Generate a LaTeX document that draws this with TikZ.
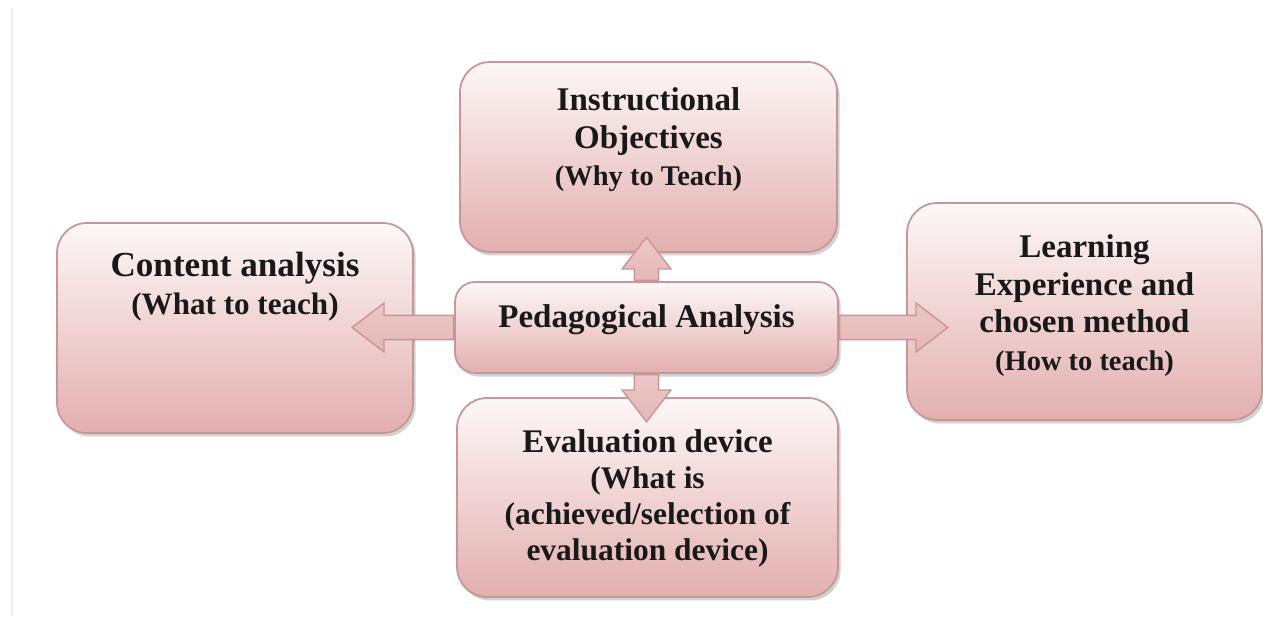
\documentclass[tikz,border=0pt]{standalone}
\usepackage{fontspec}
\setmainfont{Liberation Serif}
\usepackage{tikz}
\usetikzlibrary{positioning,calc,shadows,shapes.arrows}
\definecolor{boxtop}{HTML}{FDF7F7}
\definecolor{boxbot}{HTML}{E3AFAF}
\definecolor{boxline}{HTML}{C79696}
\definecolor{pageedge}{HTML}{FBECEC}

\begin{document}
\begin{tikzpicture}[x=0.02cm, y=-0.02cm,
  every node/.style={inner sep=0pt},
  stage/.style={rectangle, rounded corners=0.6cm, draw=boxline, line width=1pt,
    top color=boxtop, bottom color=boxbot,
    drop shadow={shadow xshift=1.5pt, shadow yshift=-2pt, opacity=0.35}},
  hub/.style={stage, rounded corners=0.4cm},
  txt/.style={font=\bfseries\fontsize{18.8}{21.5}\selectfont, align=center, text=black!90},
  arrowbody/.style={single arrow, draw=boxline, line width=0.8pt,
    shading=axis, top color=boxbot!70, middle color=boxtop, bottom color=boxbot!90,
    inner xsep=0pt, inner ysep=6.5pt, text height=0pt, text depth=0pt, minimum width=0pt,
    single arrow head extend=7pt, single arrow tip angle=75},
  link/.style={to path={let \p1=(\tikztostart), \p2=(\tikztotarget),
    \n1={atan2(\y2-\y1,\x2-\x1)}, \n2={veclen(\x2-\x1,\y2-\y1)} in
    node[arrowbody, minimum height=\n2, rotate=\n1, anchor=tail] at (\p1) {}}},
  ]
  \useasboundingbox[fill=white] (0,0) rectangle (1263,624);
  \draw[pageedge, line width=1.5pt] (12,8) -- (12,616);

  \node[stage, minimum width=7.54cm, minimum height=3.8cm] (obj) at (648.5,157) {};
  \node[stage, minimum width=7.12cm, minimum height=4.2cm] (content) at (235,328) {};
  \node[stage, minimum width=7.1cm, minimum height=4.34cm] (learn) at (1084.5,311.5) {};
  \node[stage, minimum width=7.62cm, minimum height=3.98cm] (eval) at (647.5,497.5) {};
  \node[hub, minimum width=7.66cm, minimum height=1.82cm] (ped) at (646.5,327.5) {};

  \coordinate (objTip) at ($(ped.north |- obj.south)+(0,-15)$);
  \coordinate (evalTip) at ($(ped.south |- eval.north)+(0,24)$);
  \coordinate (contentTip) at ($(ped.west -| content.east)+(-61,0)$);
  \coordinate (learnTip) at ($(ped.east -| learn.west)+(41,0)$);
  \draw[link] (ped.north) to (objTip);
  \draw[link] (ped.south) to (evalTip);
  \draw[link] (ped.west) to (contentTip);
  \draw[link] (ped.east) to (learnTip);

  \node[txt, below=0.52cm of obj.north] (objT) {Instructional\\Objectives\\{\fontsize{16.2}{21.5}\selectfont (Why to Teach)}};
  \node[txt, below=0.6cm of content.north] (contentT) {{\fontsize{20}{22}\selectfont Content analysis}\\{\fontsize{17.7}{22}\selectfont (What to teach)}};
  \node[txt, below=0.46cm of ped.north] (pedT) {Pedagogical Analysis};
  \node[txt, below=0.64cm of learn.north] (learnT) {Learning\\Experience and\\chosen method\\{\fontsize{16.2}{21.5}\selectfont (How to teach)}};
  \node[txt, below=0.64cm of eval.north, font=\bfseries\fontsize{17.9}{20.5}\selectfont] (evalT) {{\fontsize{18.8}{20.5}\selectfont Evaluation device}\\(What is\\(achieved/selection of\\evaluation device)};
\end{tikzpicture}
\end{document}
